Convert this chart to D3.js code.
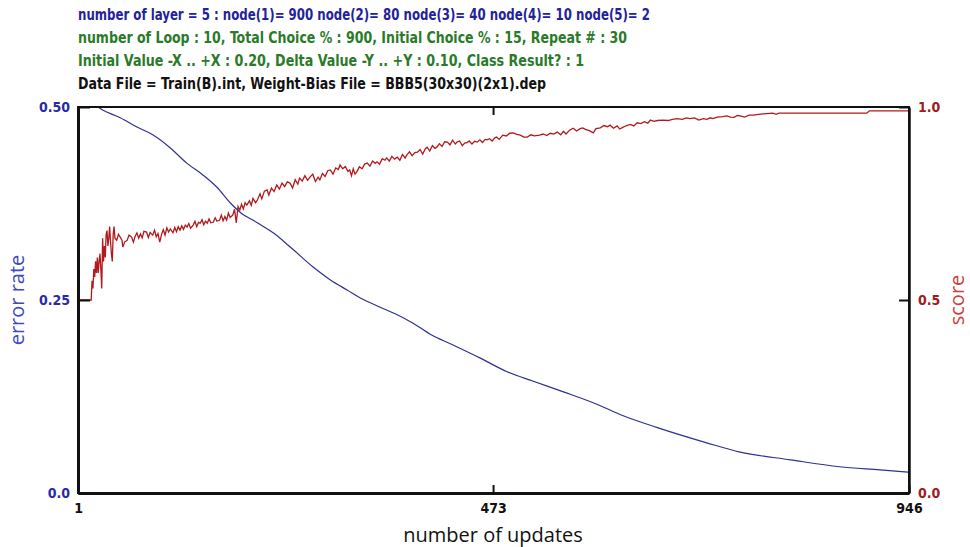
<!DOCTYPE html>
<html>
<head>
<meta charset="utf-8">
<script src="https://cdn.jsdelivr.net/npm/d3@7"></script>
<style>
  body { margin: 0; background: #fff; }
  .hdr { font-family: "Liberation Sans Narrow", "DejaVu Sans Condensed", "Arial Narrow", sans-serif; font-weight: bold; font-size: 15px; }
  .tk text { font-family: "DejaVu Sans Condensed", "Liberation Sans Narrow", sans-serif; font-weight: bold; font-size: 14px; }
  .ttl { font-family: "Open Sans", "Noto Sans", sans-serif; font-size: 20px; }
</style>
</head>
<body>
<div id="chart"></div>
<script>
// testo in alto
var headerLines = [
  "number of layer = 5 : node(1)= 900 node(2)= 80 node(3)= 40 node(4)= 10 node(5)= 2",
  "number of Loop : 10, Total Choice % : 900, Initial Choice % : 15, Repeat # : 30",
  "Initial Value -X .. +X : 0.20, Delta Value -Y .. +Y : 0.10, Class Result? : 1",
  "Data File = Train(B).int, Weight-Bias File = BBB5(30x30)(2x1).dep"
];
var headerColors = ["#22229a", "#2a7a2a", "#2a7a2a", "#111111"];
var headerWidths = [572, 549, 506, 468];

// assi
var xTicks = [1, 473, 946];
var errorTicks = [0, 0.25, 0.5];
var errorTickLabels = ["0.0", "0.25", "0.50"];
var scoreTicks = [0, 0.5, 1];
var scoreTickLabels = ["0.0", "0.5", "1.0"];

// error rate (linea blu)
var errorUpdates = [1, 23, 29, 49, 68, 86, 106, 125, 143, 159, 174, 185, 205, 223, 240, 250, 268, 288, 307, 325,
  344, 364, 382, 401, 427, 458, 489, 518, 553, 591, 621, 659, 716, 754, 811, 867, 913, 946];
var errorRate = [0.500, 0.500, 0.496, 0.486, 0.474, 0.464, 0.447, 0.427, 0.412, 0.396, 0.376, 0.364, 0.350, 0.337, 0.321, 0.311, 0.293, 0.276, 0.263, 0.251,
  0.241, 0.231, 0.220, 0.206, 0.192, 0.175, 0.157, 0.145, 0.131, 0.115, 0.100, 0.085, 0.065, 0.053, 0.043, 0.034, 0.030, 0.027];

// score (linea rossa) : [update, valore]
var scorePoints = [
  [1,0.43],[2,0.50],[16,0.50],[17,0.55],[18,0.53],[19,0.58],[20,0.56],[21,0.60],[22,0.57],[23,0.61],
  [24,0.57],[25,0.60],[26,0.62],[27,0.58],[28,0.53],[29,0.66],[30,0.60],[31,0.64],[32,0.61],[33,0.67],
  [34,0.68],[35,0.64],[36,0.66],[37,0.69],[38,0.65],[39,0.62],[40,0.60],[41,0.67],[42,0.69],[43,0.66],
  [45,0.655],[47,0.67],[49,0.663],[51,0.655],[52,0.637],[54,0.65],[57,0.655],[59,0.668],[62,0.663],[64,0.65],
  [66,0.665],[68,0.674],[70,0.66],[72,0.671],[74,0.661],[76,0.678],[79,0.676],[81,0.662],[83,0.675],[86,0.668],
  [88,0.681],[90,0.664],[92,0.672],[94,0.65],[96,0.67],[98,0.682],[100,0.668],[102,0.687],[104,0.676],[106,0.684],
  [109,0.674],[111,0.688],[113,0.677],[115,0.69],[117,0.681],[119,0.692],[121,0.683],[123,0.694],[125,0.689],[127,0.698],
  [129,0.686],[132,0.694],[134,0.704],[136,0.69],[138,0.701],[140,0.699],[142,0.708],[144,0.695],[146,0.704],[148,0.699],
  [150,0.71],[152,0.70],[155,0.702],[157,0.713],[159,0.704],[162,0.707],[164,0.72],[166,0.705],[168,0.716],[170,0.707],
  [172,0.725],[174,0.714],[177,0.72],[179,0.735],[181,0.70],[183,0.742],[185,0.733],[187,0.748],[189,0.736],[191,0.752],
  [193,0.746],[196,0.757],[198,0.745],[200,0.763],[203,0.752],[205,0.759],[208,0.775],[210,0.762],[213,0.782],[216,0.785],
  [218,0.772],[221,0.79],[224,0.781],[227,0.798],[230,0.787],[233,0.803],[236,0.794],[239,0.806],[242,0.803],[245,0.79],
  [248,0.812],[251,0.80],[253,0.816],[256,0.808],[259,0.822],[262,0.81],[265,0.819],[268,0.826],[271,0.807],[274,0.818],
  [276,0.811],[279,0.828],[282,0.82],[285,0.835],[288,0.837],[291,0.826],[294,0.842],[297,0.838],[299,0.85],[302,0.84],
  [305,0.846],[308,0.833],[310,0.837],[312,0.822],[314,0.84],[316,0.826],[318,0.832],[321,0.845],[324,0.84],[327,0.852],
  [330,0.855],[333,0.847],[336,0.86],[339,0.854],[341,0.858],[344,0.852],[347,0.866],[350,0.862],[352,0.868],[355,0.86],
  [358,0.872],[361,0.865],[364,0.87],[367,0.862],[370,0.877],[373,0.868],[375,0.876],[378,0.884],[381,0.874],[384,0.882],
  [387,0.883],[390,0.89],[393,0.878],[396,0.892],[398,0.896],[401,0.886],[404,0.90],[407,0.893],[409,0.896],[412,0.905],
  [415,0.898],[418,0.91],[421,0.909],[424,0.902],[427,0.914],[430,0.904],[432,0.909],[435,0.912],[438,0.90],[441,0.907],
  [443,0.907],[446,0.912],[449,0.904],[452,0.911],[455,0.909],[458,0.915],[461,0.908],[464,0.916],[466,0.915],[469,0.918],
  [472,0.912],[475,0.92],[477,0.922],[480,0.916],[484,0.927],[488,0.925],[492,0.932],[496,0.933],[500,0.929],[504,0.927],
  [508,0.922],[512,0.922],[516,0.928],[520,0.925],[526,0.927],[530,0.93],[534,0.926],[538,0.932],[542,0.93],[546,0.935],
  [550,0.928],[553,0.937],[556,0.93],[560,0.94],[564,0.945],[568,0.938],[572,0.944],[575,0.946],[578,0.942],[583,0.938],
  [587,0.933],[590,0.944],[595,0.946],[599,0.952],[603,0.949],[606,0.953],[610,0.945],[614,0.951],[617,0.943],[621,0.948],
  [625,0.952],[629,0.955],[633,0.951],[637,0.959],[641,0.957],[645,0.962],[649,0.958],[652,0.966],[656,0.963],[660,0.965],
  [666,0.966],[672,0.965],[677,0.968],[682,0.97],[688,0.968],[693,0.972],[697,0.97],[702,0.972],[707,0.966],[712,0.97],
  [716,0.968],[720,0.972],[723,0.97],[728,0.974],[734,0.975],[739,0.977],[743,0.974],[747,0.973],[751,0.978],[754,0.977],
  [759,0.974],[764,0.979],[769,0.979],[775,0.981],[780,0.982],[784,0.983],[791,0.984],[795,0.981],[798,0.984],[822,0.984],
  [860,0.984],[898,0.984],[901,0.99],[946,0.99]
];

// dimensioni e margini
var margin = {top: 107, right: 61, bottom: 54, left: 78};
var width = 970 - margin.left - margin.right;
var height = 547 - margin.top - margin.bottom;

var root = d3.select("#chart")
  .append("svg")
  .attr("width", 970)
  .attr("height", 547);

// righe di intestazione
root.selectAll(".hdr")
  .data(headerLines)
  .enter()
  .append("text")
  .attr("class", "hdr")
  .attr("x", 78)
  .attr("y", function(d, i) { return 19.5 + i * 23.3; })
  .attr("textLength", function(d, i) { return headerWidths[i]; })
  .attr("lengthAdjust", "spacingAndGlyphs")
  .attr("fill", function(d, i) { return headerColors[i]; })
  .text(function(d) { return d; });

var svg = root.append("g")
  .attr("transform", "translate(" + margin.left + "," + margin.top + ")");

var x = d3.scaleLinear().domain([1, 946]).range([0, width]);
var yErr = d3.scaleLinear().domain([0, 0.5]).range([height, 0]);
var yScore = d3.scaleLinear().domain([0, 1]).range([height, 0]);

// linee
var errorData = errorUpdates.map(function(n, i) { return [n, errorRate[i]]; });

svg.append("path")
  .datum(scorePoints)
  .attr("fill", "none")
  .attr("stroke", "#b3191c")
  .attr("stroke-width", 1.3)
  .attr("d", d3.line()
    .x(function(d) { return x(d[0]); })
    .y(function(d) { return yScore(d[1]); }));

svg.append("path")
  .datum(errorData)
  .attr("fill", "none")
  .attr("stroke", "#2e3192")
  .attr("stroke-width", 1.2)
  .attr("d", d3.line()
    .curve(d3.curveMonotoneX)
    .x(function(d) { return x(d[0]); })
    .y(function(d) { return yErr(d[1]); }));

// cornice
svg.append("rect")
  .attr("width", width)
  .attr("height", height)
  .attr("fill", "none")
  .attr("stroke", "#111")
  .attr("stroke-width", 2);

// asse sinistro
var gl = svg.append("g")
  .attr("class", "tk")
  .call(d3.axisLeft(yErr).tickValues(errorTicks)
    .tickFormat(function(d, i) { return errorTickLabels[i]; })
    .tickSizeInner(-12).tickSizeOuter(0).tickPadding(8));
gl.select(".domain").attr("stroke", "#111").attr("stroke-width", 3);
gl.selectAll(".tick text").attr("fill", "#2a2aa8");

// asse destro
var gr = svg.append("g")
  .attr("class", "tk")
  .attr("transform", "translate(" + width + ",0)")
  .call(d3.axisRight(yScore).tickValues(scoreTicks)
    .tickFormat(function(d, i) { return scoreTickLabels[i]; })
    .tickSizeInner(-10).tickSizeOuter(0).tickPadding(9));
gr.select(".domain").attr("stroke", "#111").attr("stroke-width", 2.5);
gr.selectAll(".tick text").attr("fill", "#a01c1c");

// asse in basso
var gb = svg.append("g")
  .attr("class", "tk")
  .attr("transform", "translate(0," + height + ")")
  .call(d3.axisBottom(x).tickValues(xTicks)
    .tickFormat(d3.format("d"))
    .tickSizeInner(-8).tickSizeOuter(0).tickPadding(10));
gb.select(".domain").attr("stroke", "#111").attr("stroke-width", 3);
gb.selectAll(".tick text").attr("fill", "#111");

// tacca in alto
svg.append("g")
  .attr("class", "tk")
  .call(d3.axisTop(x).tickValues([473]).tickFormat("")
    .tickSizeInner(-8).tickSizeOuter(0))
  .select(".domain").attr("stroke", "none");
svg.selectAll(".tk .tick line").attr("stroke", "#111").attr("stroke-width", 2);

// titoli degli assi
root.append("text")
  .attr("class", "ttl")
  .attr("text-anchor", "middle")
  .attr("transform", "translate(24," + (margin.top + height / 2) + ") rotate(-90)")
  .attr("fill", "#4048c0")
  .text("error rate");

root.append("text")
  .attr("class", "ttl")
  .attr("text-anchor", "middle")
  .attr("transform", "translate(964," + (margin.top + height / 2) + ") rotate(-90)")
  .attr("fill", "#c8413a")
  .text("score");

root.append("text")
  .attr("class", "ttl")
  .attr("text-anchor", "middle")
  .attr("x", margin.left + x(473))
  .attr("y", 542)
  .attr("fill", "#111")
  .text("number of updates");
</script>
</body>
</html>
